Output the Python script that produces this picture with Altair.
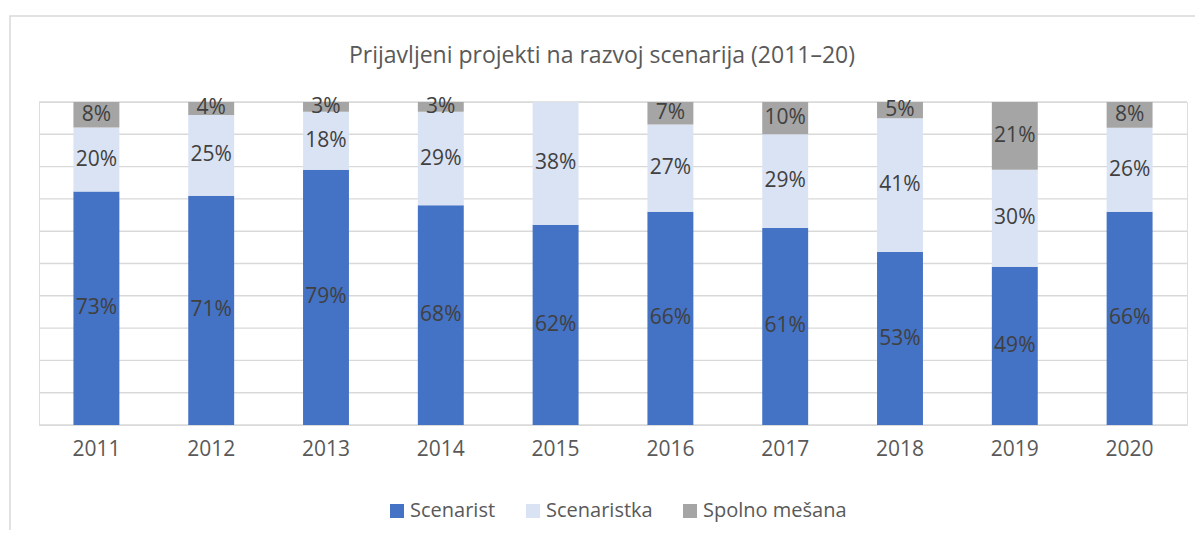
import altair as alt
import pandas as pd

years = ["2011", "2012", "2013", "2014", "2015", "2016", "2017", "2018", "2019", "2020"]
series = ["Scenarist", "Scenaristka", "Spolno mešana"]
scenarist = [73, 71, 79, 68, 62, 66, 61, 53, 49, 66]
scenaristka = [20, 25, 18, 29, 38, 27, 29, 41, 30, 26]
spolno = [8, 4, 3, 3, 0, 7, 10, 5, 21, 8]
colors = ["#4472C4", "#DAE3F3", "#A5A5A5"]
grid_values = [0, 0.1, 0.2, 0.3, 0.4, 0.5, 0.6, 0.7, 0.8, 0.9, 1.0]
title_text = "Prijavljeni projekti na razvoj scenarija (2011–20)"

rows = []
for i, y in enumerate(years):
    for k, (name, vals) in enumerate(zip(series, [scenarist, scenaristka, spolno])):
        rows.append({"year": y, "series": name, "ord": k, "value": vals[i]})
df = pd.DataFrame(rows)
grid_df = pd.DataFrame({"g": grid_values})

FONT = "Open Sans"
W, H = 1148, 323

base = alt.Chart(df).transform_stack(
    stack="value", groupby=["year"], as_=["v0", "v1"], offset="normalize",
    sort=[alt.SortField("ord", order="ascending")]
).transform_calculate(mid="(datum.v0 + datum.v1) / 2")

xenc = alt.X("year:N", sort=years, title=None,
             scale=alt.Scale(paddingInner=0.6, paddingOuter=0.3),
             axis=alt.Axis(domain=False, ticks=False, labelAngle=0, labelFont=FONT,
                           labelFontSize=21, labelColor="#595959", labelPadding=13,
                           grid=False))
yscale = alt.Scale(domain=[0, 1], nice=False, zero=True)

grid = alt.Chart(grid_df).mark_rule(color="#D9D9D9", strokeWidth=1.4).encode(
    y=alt.Y("g:Q", scale=yscale, axis=None)
)

bars = base.mark_bar().encode(
    x=xenc,
    y=alt.Y("v0:Q", scale=yscale, title=None, axis=None),
    y2="v1:Q",
    color=alt.Color("series:N", sort=series,
                    scale=alt.Scale(domain=series, range=colors),
                    legend=alt.Legend(title=None, orient="none", direction="horizontal",
                                      legendX=348, legendY=399, symbolType="square",
                                      symbolSize=196, symbolStrokeWidth=0,
                                      labelFont=FONT, labelFontSize=20,
                                      labelColor="#595959", labelOffset=3,
                                      columnPadding=27, padding=0)),
)

labels = base.transform_filter("datum.value > 0").transform_calculate(
    lab="datum.value + '%'"
).mark_text(font=FONT, fontSize=21, color="#404040", baseline="middle").encode(
    x=alt.X("year:N", sort=years),
    y=alt.Y("mid:Q", scale=yscale),
    text="lab:N",
)

frame = alt.Chart(pd.DataFrame({"a": [0]})).mark_rect(
    fill=None, stroke="#D9D9D9", strokeWidth=1.5
).encode(
    x=alt.value(-29), x2=alt.value(1300), y=alt.value(-86), y2=alt.value(700)
)

title = alt.Chart(pd.DataFrame({"t": [title_text]})).mark_text(
    font=FONT, fontSize=23, color="#595959", baseline="alphabetic", align="center"
).encode(
    x=alt.value(W / 2 - 11), y=alt.value(-39), text="t:N"
)

chart = alt.layer(frame, grid, bars, labels, title).properties(
    width=W, height=H,
    autosize=alt.AutoSizeParams(type="none"),
    padding={"left": 31, "top": 94, "right": 8, "bottom": 105},
).configure_view(stroke=None).configure(background="white")

chart.save("out.html", embed_options={"renderer": "svg", "actions": False})
